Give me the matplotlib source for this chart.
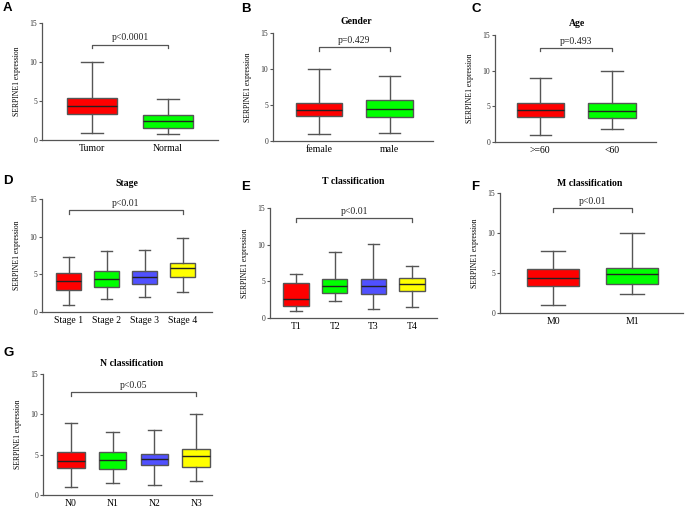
import matplotlib
matplotlib.use("Agg")
import matplotlib.pyplot as plt

# ---------------- data ----------------
A_cats = ["Tumor", "Normal"]
A_lo = [0.95, 0.78]; A_q1 = [3.35, 1.6]; A_med = [4.3, 2.5]; A_q3 = [5.36, 3.2]; A_hi = [10.04, 5.24]
A_p = "p<0.0001"

B_cats = ["female", "male"]
B_lo = [1.0, 1.16]; B_q1 = [3.45, 3.3]; B_med = [4.3, 4.38]; B_q3 = [5.3, 5.68]; B_hi = [10.0, 9.0]
B_p = "p=0.429"

C_cats = [">=60", "<60"]
C_lo = [1.0, 1.8]; C_q1 = [3.45, 3.4]; C_med = [4.47, 4.38]; C_q3 = [5.4, 5.45]; C_hi = [9.0, 10.0]
C_p = "p=0.493"

D_cats = ["Stage 1", "Stage 2", "Stage 3", "Stage 4"]
D_lo = [0.98, 1.78, 1.96, 2.71]; D_q1 = [2.89, 3.34, 3.69, 4.58]; D_med = [4.18, 4.4, 4.63, 5.79]
D_q3 = [5.2, 5.47, 5.47, 6.45]; D_hi = [7.34, 8.1, 8.28, 9.79]
D_p = "p<0.01"

E_cats = ["T1", "T2", "T3", "T4"]
E_lo = [0.95, 2.32, 1.18, 1.5]; E_q1 = [1.68, 3.41, 3.32, 3.73]; E_med = [2.6, 4.36, 4.36, 4.64]
E_q3 = [4.77, 5.32, 5.36, 5.41]; E_hi = [5.95, 9.0, 10.05, 7.05]
E_p = "p<0.01"

F_cats = ["M0", "M1"]
F_lo = [1.04, 2.33]; F_q1 = [3.42, 3.63]; F_med = [4.38, 4.88]; F_q3 = [5.46, 5.58]; F_hi = [7.75, 10.04]
F_p = "p<0.01"

G_cats = ["N0", "N1", "N2", "N3"]
G_lo = [1.0, 1.49, 1.2, 1.7]; G_q1 = [3.32, 3.19, 3.69, 3.52]; G_med = [4.27, 4.35, 4.48, 4.81]
G_q3 = [5.3, 5.3, 5.1, 5.72]; G_hi = [8.95, 7.83, 8.04, 9.99]
G_p = "p<0.05"

colors = ["#ff0000", "#00ff00", "#5050ff", "#ffff00"]

W, H = 685, 509

panels = [
    # letter, title, cats, lo, q1, med, q3, hi, p, bracket_y,
    # axes px (left, right, top, bottom), xlim, letter px (x, y), title px (x, y)
    ("A", "", A_cats, A_lo, A_q1, A_med, A_q3, A_hi, A_p, 12.2, (42, 218, 23, 140), (0.34, 2.66), (3, 8), None),
    ("B", "Gender", B_cats, B_lo, B_q1, B_med, B_q3, B_hi, B_p, 13.0, (273, 433, 33, 141), (0.35, 2.61), (241, 8.5), (356, 21)),
    ("C", "Age", C_cats, C_lo, C_q1, C_med, C_q3, C_hi, C_p, 13.2, (495, 656, 35, 142), (0.37, 2.61), (471, 8.5), (577, 23)),
    ("D", "Stage", D_cats, D_lo, D_q1, D_med, D_q3, D_hi, D_p, 13.5, (42, 212, 199, 312), (0.30, 4.77), (3, 181.5), (127, 184)),
    ("E", "T classification", E_cats, E_lo, E_q1, E_med, E_q3, E_hi, E_p, 13.6, (270, 437, 208, 318), (0.33, 4.64), (241, 187), (353, 181)),
    ("F", "M classification", F_cats, F_lo, F_q1, F_med, F_q3, F_hi, F_p, 13.1, (500, 683, 193, 313), (0.33, 2.64), (471, 187), (590, 184)),
    ("G", "N classification", G_cats, G_lo, G_q1, G_med, G_q3, G_hi, G_p, 12.76, (43, 212, 374, 495), (0.33, 4.38), (3, 353), (132, 363)),
]

serif = ["Liberation Serif", "DejaVu Serif"]
sans = ["Liberation Sans", "DejaVu Sans"]
edge = "#555555"

fig = plt.figure(figsize=(W / 100, H / 100), dpi=100)

for (letter, title, cats, lo, q1, med, q3, hi, p, by, px, xlim, lpos, tpos) in panels:
    l, r, t, b = px
    ax = fig.add_axes([l / W, 1 - b / H, (r - l) / W, (b - t) / H])
    stats = []
    for i, c in enumerate(cats):
        stats.append(dict(label=c, whislo=lo[i], q1=q1[i], med=med[i], q3=q3[i], whishi=hi[i], fliers=[]))
    pos = list(range(1, len(cats) + 1))
    bp = ax.bxp(stats, positions=pos, widths=0.66, patch_artist=True, showfliers=False,
                boxprops=dict(edgecolor=edge, linewidth=1.0),
                whiskerprops=dict(color=edge, linewidth=1.0),
                capprops=dict(color=edge, linewidth=1.0),
                medianprops=dict(color="#222222", linewidth=1.0))
    for patch, col in zip(bp["boxes"], colors):
        patch.set_facecolor(col)
    for cap in bp["caps"]:
        xd = cap.get_xdata()
        m = (xd[0] + xd[1]) / 2
        cap.set_xdata([m - 0.15, m + 0.15])
    ax.set_ylim(0, 15)
    ax.set_xlim(*xlim)
    ax.set_yticks([0, 5, 10, 15])
    ax.spines["top"].set_visible(False)
    ax.spines["right"].set_visible(False)
    for s in ("left", "bottom"):
        ax.spines[s].set_color(edge)
        ax.spines[s].set_linewidth(0.9)
    ax.tick_params(axis="y", direction="out", length=2.5, width=0.8, color=edge,
                   labelsize=5.5, pad=1, labelcolor="#333333")
    ax.tick_params(axis="x", length=0, labelsize=7, pad=3)
    for lab in ax.get_xticklabels() + ax.get_yticklabels():
        lab.set_fontfamily(serif)
    ax.set_ylabel("SERPINE1 expression", fontsize=5.5, family=serif, labelpad=6)
    if title:
        fig.text(tpos[0] / W, 1 - tpos[1] / H, title, fontsize=7, fontweight="bold", family=serif,
                 ha="center", va="center")
    # significance bracket
    x0, x1 = pos[0], pos[-1]
    ax.plot([x0, x0, x1, x1], [by - 0.45, by, by, by - 0.45], color=edge, lw=0.9, clip_on=False)
    ax.text((x0 + x1) / 2, by + 0.3, p, ha="center", va="bottom", fontsize=7, family=serif, color="#222222")
    fig.text(lpos[0] / W, 1 - lpos[1] / H, letter, fontsize=9.5, fontweight="bold", family=sans,
             ha="left", va="center")

fig.savefig("out.png", dpi=100)
